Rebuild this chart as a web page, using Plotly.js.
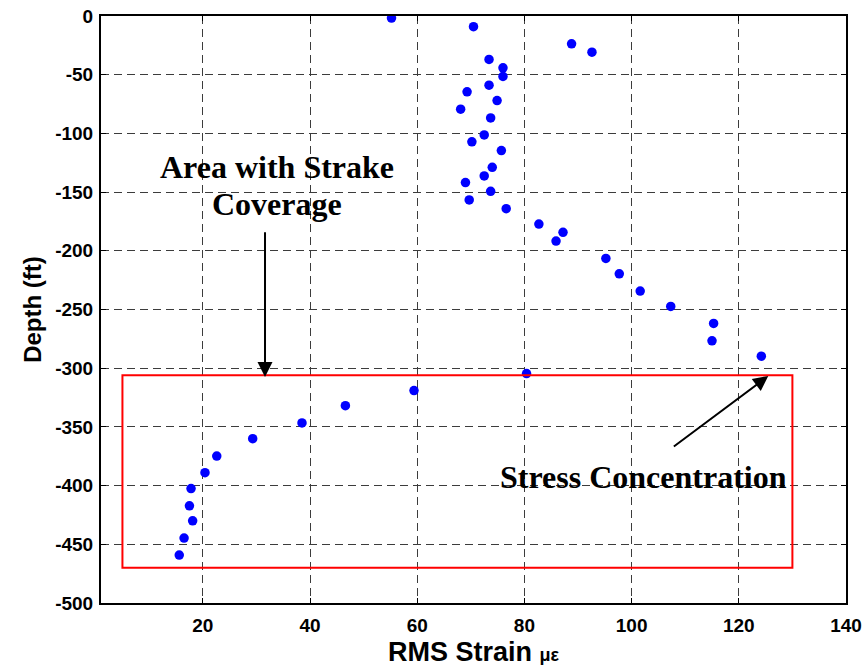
<!DOCTYPE html>
<html>
<head>
<meta charset="utf-8">
<script src="https://cdn.plot.ly/plotly-3.0.1.min.js"></script>
<style>
  html, body { margin: 0; padding: 0; background: #ffffff; }
  #chart { width: 867px; height: 669px; }
</style>
</head>
<body>
<div id="chart"></div>
<script>
// RMS strain (microstrain) measured along the riser, by depth (ft)
const rmsStrain = [
  55.2, 70.5, 88.8, 92.6, 73.4, 76.0, 76.0, 73.4, 69.3, 74.9,
  68.1, 73.7, 72.5, 70.2, 75.7, 74.0, 72.5, 69.0, 73.7, 69.7,
  76.6, 82.7, 87.2, 85.9, 95.2, 97.7, 101.6, 107.3, 115.3, 115.0,
  124.2, 80.4, 59.4, 46.6, 38.5, 29.3, 22.6, 20.4, 17.8, 17.5,
  18.1, 16.5, 15.6
];
const depthFt = [
  -1.8, -9.1, -23.7, -30.8, -37.0, -44.1, -51.5, -58.9, -64.6, -72.0,
  -79.4, -86.8, -101.3, -107.2, -114.6, -128.9, -136.2, -141.9, -149.3, -156.7,
  -164.1, -177.2, -184.3, -191.7, -206.5, -219.6, -234.3, -247.4, -261.9, -276.7,
  -289.8, -304.6, -319.1, -331.9, -346.6, -360.0, -374.8, -389.0, -402.5, -417.2,
  -430.0, -444.7, -459.2
];
const xTickVals = [20, 40, 60, 80, 100, 120, 140];
const yTickVals = [0, -50, -100, -150, -200, -250, -300, -350, -400, -450, -500];

// Region of the riser covered by strakes
const strakeZone = { x0: 5, x1: 130, y0: -470, y1: -306 };

const tickFont = { family: 'Liberation Sans, Arial, sans-serif', size: 19, color: '#000', weight: 'bold' };
const noteFont = { family: 'Liberation Serif, Times New Roman, serif', size: 32, color: '#000', weight: 'bold' };

const bold = v => '<b>' + v + '</b>';

const trace = {
  type: 'scatter',
  mode: 'markers',
  x: rmsStrain,
  y: depthFt,
  marker: { color: '#0000ff', size: 9.5, line: { width: 0 } },
  hoverinfo: 'x+y',
  showlegend: false
};

const axisCommon = {
  showline: true,
  linecolor: '#000',
  linewidth: 2,
  mirror: 'ticks',
  ticks: 'inside',
  ticklen: 5,
  tickwidth: 1,
  tickcolor: '#000',
  showgrid: true,
  gridcolor: '#3c3c3c',
  gridwidth: 1,
  griddash: '8px,5px',
  zeroline: false,
  tickfont: tickFont,
  automargin: false
};

const layout = {
  width: 867,
  height: 669,
  margin: { l: 101, r: 21, t: 16, b: 66 },
  paper_bgcolor: '#ffffff',
  plot_bgcolor: '#ffffff',
  showlegend: false,
  xaxis: Object.assign({}, axisCommon, {
    range: [1, 140],
    tickmode: 'array',
    tickvals: xTickVals,
    ticktext: xTickVals.map(bold),
    ticklabelstandoff: 4,
    title: {
      text: '<b>RMS Strain</b> <span style="font-size:18px"><b>με</b></span>',
      font: { family: 'Liberation Sans, Arial, sans-serif', size: 27, color: '#000', weight: 'bold' },
      standoff: 7
    }
  }),
  yaxis: Object.assign({}, axisCommon, {
    range: [-500, 0],
    tickmode: 'array',
    tickvals: yTickVals,
    ticktext: yTickVals.map(bold),
    ticklabelstandoff: 2,
    title: {
      text: '<b>Depth (ft)</b>',
      font: { family: 'Liberation Sans, Arial, sans-serif', size: 24, color: '#000', weight: 'bold' },
      standoff: 7
    }
  }),
  shapes: [
    {
      type: 'rect', xref: 'x', yref: 'y',
      x0: strakeZone.x0, x1: strakeZone.x1, y0: strakeZone.y0, y1: strakeZone.y1,
      line: { color: '#ff0000', width: 2 },
      fillcolor: 'rgba(0,0,0,0)'
    }
  ],
  annotations: [
    { xref: 'x', yref: 'y', x: 33.9, y: -128.3, text: '<b>Area with Strake</b>', showarrow: false,
      font: noteFont, xanchor: 'center', yanchor: 'middle' },
    { xref: 'x', yref: 'y', x: 33.9, y: -160.4, text: '<b>Coverage</b>', showarrow: false,
      font: noteFont, xanchor: 'center', yanchor: 'middle' },
    { xref: 'x', yref: 'y', x: 102.2, y: -393, text: '<b>Stress Concentration</b>', showarrow: false,
      font: noteFont, xanchor: 'center', yanchor: 'middle' },
    // arrow into the strake zone
    { xref: 'x', yref: 'y', axref: 'x', ayref: 'y',
      x: 31.6, y: -307.5, ax: 31.6, ay: -183, text: '', showarrow: true,
      arrowhead: 2, arrowsize: 1.5, arrowwidth: 2, arrowcolor: '#000', standoff: 0, startstandoff: 0 },
    // arrow towards the deepest high-strain point
    { xref: 'x', yref: 'y', axref: 'x', ayref: 'y',
      x: 125.5, y: -306.6, ax: 107.6, ay: -367.7, text: '', showarrow: true,
      arrowhead: 2, arrowsize: 1.5, arrowwidth: 2, arrowcolor: '#000', standoff: 0, startstandoff: 0 }
  ]
};

Plotly.newPlot('chart', [trace], layout, { displayModeBar: false, staticPlot: true });
</script>
</body>
</html>
